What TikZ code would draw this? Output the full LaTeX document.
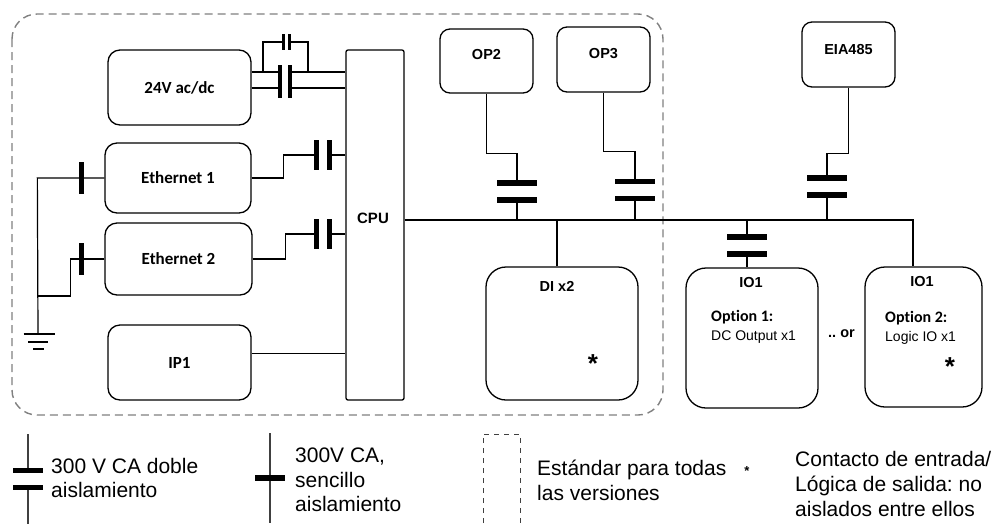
\documentclass[tikz,border=0pt]{standalone}
\usepackage{fontspec}
\setmainfont{Liberation Sans}
\newfontfamily\calibri[Ligatures=CommonOff]{Carlito}
\usepackage{tikz}
\usetikzlibrary{calc,positioning}
\frenchspacing
\tikzset{
  blk/.style={draw, line width=1.3pt, rounded corners=#1, inner sep=0pt},
  blk/.default=12pt,
  wire/.style={line width=1.2pt},
  plate/.style={line width=5.5pt},
  lbl/.style={font=\calibri\bfseries\fontsize{17}{20}\selectfont},
  modlbl/.style={font=\bfseries\fontsize{14.5}{17}\selectfont},
  legend/.style={font=\fontsize{21}{24.5}\selectfont, align=left, anchor=north west, inner sep=0pt}
}
% horizontal double plate: #1 centre, #2 half width
\newcommand{\hcap}[2]{\draw[plate] ([xshift=-#2,yshift=8.5pt]#1) -- ([xshift=#2,yshift=8.5pt]#1)
  ([xshift=-#2,yshift=-8.5pt]#1) -- ([xshift=#2,yshift=-8.5pt]#1);}
% vertical double plate: #1 centre, #2 half gap, #3 half height
\newcommand{\vcap}[3]{\draw[plate] ([xshift=-#2,yshift=#3]#1) -- ([xshift=-#2,yshift=-#3]#1)
  ([xshift=#2,yshift=#3]#1) -- ([xshift=#2,yshift=-#3]#1);}

\begin{document}
\begin{tikzpicture}[x=1pt,y=-1pt]
    \useasboundingbox (0,0) rectangle (994,523);
    % standard part
    \draw[gray, line width=1.4pt, dash pattern=on 8pt off 5pt, rounded corners=25pt] (12,14) rectangle (663,415);

    % modules
    \node[blk, minimum width=143pt, minimum height=75pt, lbl] (psu) at (179.5,87.5) {24V ac/dc};
    \node[blk, minimum width=146pt, minimum height=70pt, lbl] (eth1) at (178,178) {Ethernet 1};
    \node[blk, minimum width=147pt, minimum height=72pt, lbl] (eth2) at (178.5,259) {Ethernet 2};
    \node[blk, minimum width=143pt, minimum height=75pt, lbl] (ip1) at (179.5,362.5) {IP1};
    \node[blk=2pt, minimum width=58pt, minimum height=350pt] (cpu) at (375,225) {};
    \node[font=\bfseries\fontsize{15}{17}\selectfont] (cpulbl) at ([xshift=-2pt,yshift=7pt]cpu.center) {CPU};
    \node[blk=10pt, minimum width=93pt, minimum height=64pt] (op2) at (486.5,61) {};
    \node[blk=10pt, minimum width=93pt, minimum height=65pt] (op3) at (603.5,59.5) {};
    \node[blk=10pt, minimum width=93pt, minimum height=65pt] (eia) at (848.5,54.5) {};
    \node[modlbl] (op2lbl) at ([yshift=-26pt]op2.north) {OP2};
    \node[modlbl] (op3lbl) at ([yshift=-27pt]op3.north) {OP3};
    \node[modlbl] (eialbl) at ([yshift=-28pt]eia.north) {EIA485};
    \node[blk=20pt, minimum width=152pt, minimum height=133pt] (di) at (562,333.5) {};
    \node[blk=20pt, minimum width=132pt, minimum height=140pt] (io1a) at (752,338) {};
    \node[blk=20pt, minimum width=117pt, minimum height=140pt] (io1b) at (923.5,337) {};
    \node[modlbl] (dilbl) at ([xshift=-5pt,yshift=-20pt]di.north) {DI x2};
    \node[modlbl] (io1albl) at ([xshift=-1pt,yshift=-15pt]io1a.north) {IO1};
    \node[modlbl] (io1blbl) at ([xshift=-1.5pt,yshift=-15pt]io1b.north) {IO1};
    \node[anchor=west, align=left, inner sep=0pt, font=\fontsize{14}{19}\selectfont] (opt1) at ([xshift=-41pt,yshift=-59pt]io1a.north)
        {{\calibri\bfseries\fontsize{16}{19}\selectfont Option 1:}\\DC Output x1};
    \node[anchor=west, align=left, inner sep=0pt, font=\fontsize{14}{19}\selectfont] (opt2) at ([xshift=-38.5pt,yshift=-61pt]io1b.north)
        {{\calibri\bfseries\fontsize{16}{19}\selectfont Option 2:}\\Logic IO x1};
    \node[modlbl] (orlbl) at ([yshift=4pt]$(io1a.east)!0.5!(io1b.west)$) {.. or};
    \node[font=\bfseries\fontsize{26}{26}\selectfont] (star1) at ([xshift=31pt,yshift=-30pt]di.center) {*};
    \node[font=\bfseries\fontsize{26}{26}\selectfont] (star2) at ([xshift=26.5pt,yshift=-30pt]io1b.center) {*};

    % 24V supply, double barrier with bypass
    \coordinate (cp) at (285,72);
    \coordinate (cq) at (285,88);
    \coordinate (cb) at (286,42);
    \draw[wire] (cp -| psu.east) -- ([xshift=-5pt]cp) ([xshift=5pt]cp) -- (cp -| cpu.west);
    \draw[wire] (cq -| psu.east) -- ([xshift=-5pt]cq) ([xshift=5pt]cq) -- (cq -| cpu.west);
    \draw[plate, line width=4.5pt] ([xshift=-5pt,yshift=7pt]cp) -- ([xshift=-5pt,yshift=-10pt]cq)
        ([xshift=5pt,yshift=7pt]cp) -- ([xshift=5pt,yshift=-10pt]cq);
    \draw[wire] ([xshift=-22pt]cp) |- ([xshift=-3pt]cb);
    \draw[wire] ([xshift=3pt]cb) -| ([xshift=23pt]cp);
    \draw[line width=3pt] ([xshift=-3pt,yshift=8pt]cb) -- ([xshift=-3pt,yshift=-8pt]cb)
        ([xshift=3pt,yshift=8pt]cb) -- ([xshift=3pt,yshift=-8pt]cb);

    % Ethernet ports
    \coordinate (ce1) at (323,155);
    \coordinate (ce2) at (323,234);
    \draw[wire] (eth1.east) -- ++(32,0) |- ([xshift=-7pt]ce1);
    \draw[wire] ([xshift=7pt]ce1) -- (ce1 -| cpu.west);
    \vcap{ce1}{6.5pt}{15pt}
    \draw[wire] (eth2.east) -- ++(33,0) |- ([xshift=-7pt]ce2);
    \draw[wire] ([xshift=7pt]ce2) -- (ce2 -| cpu.west);
    \vcap{ce2}{6.5pt}{15pt}

    % earth side
    \coordinate (gnd) at (38,334);
    \draw[wire] (eth1.west) -- ++(-67,0) -- (gnd);
    \draw[wire] (eth2.west) -- ++(-34,0) |- ([yshift=38pt]gnd);
    \draw[line width=4.5pt] ([xshift=-23pt,yshift=16pt]eth1.west) -- ([xshift=-23pt,yshift=-16pt]eth1.west);
    \draw[line width=4.5pt] ([xshift=-23pt,yshift=16pt]eth2.west) -- ([xshift=-23pt,yshift=-16pt]eth2.west);
    \draw[line width=1.5pt] ([xshift=-14.5pt]gnd) -- ([xshift=16.5pt]gnd)
        ([xshift=-10pt,yshift=-8pt]gnd) -- ([xshift=10pt,yshift=-8pt]gnd)
        ([xshift=-5pt,yshift=-15pt]gnd) -- ([xshift=6pt,yshift=-15pt]gnd);

    % IP1
    \coordinate (ipw) at ([yshift=9pt]ip1.east);
    \draw[wire] (ipw) -- (ipw -| cpu.west);

    % bus
    \coordinate (bus) at ([yshift=5pt]cpu.east);
    \draw[wire] (bus) -| ([xshift=-10.5pt]io1b.north);
    \draw[wire] ([xshift=-5pt]di.north) -- ([xshift=-5pt]di.north |- bus);

    % isolated outputs
    \coordinate (co2) at (517,191.5);
    \coordinate (co3) at (635,190);
    \coordinate (cea) at (827,186.5);
    \coordinate (cio) at (747,245.5);
    \draw[wire] (op2.south) -- ++(0,60) -| ([yshift=8.5pt]co2);
    \draw[wire] ([yshift=-8.5pt]co2) -- (co2 |- bus);
    \hcap{co2}{20pt}
    \draw[wire] (op3.south) -- ++(0,59) -| ([yshift=8.5pt]co3);
    \draw[wire] ([yshift=-8.5pt]co3) -- (co3 |- bus);
    \hcap{co3}{20pt}
    \draw[wire] (eia.south) -- ++(0,66) -| ([yshift=8.5pt]cea);
    \draw[wire] ([yshift=-8.5pt]cea) -- (cea |- bus);
    \hcap{cea}{20pt}
    \draw[wire] (cio |- bus) -- ([yshift=8.5pt]cio);
    \draw[wire] ([yshift=-8.5pt]cio) -- (cio |- io1a.north);
    \hcap{cio}{20pt}

    % legend
    \coordinate (lg1) at (28,479);
    \draw[wire, black!75] ([yshift=45pt]lg1) -- ([yshift=8pt]lg1) ([yshift=-8pt]lg1) -- ([yshift=-45pt]lg1);
    \hcap{lg1}{15pt}
    \node[legend] (lgt1) at (51,458) {300 V CA doble\\aislamiento};
    \coordinate (lg2) at (270,478);
    \draw[wire, black!75] ([yshift=45pt]lg2) -- ([yshift=-45pt]lg2);
    \draw[plate] ([xshift=-15pt]lg2) -- ([xshift=15pt]lg2);
    \node[legend] (lgt2) at (295,448) {300V CA,\\sencillo\\aislamiento};
    \draw[black!75, line width=0.8pt, dash pattern=on 5pt off 5pt] (483,523) |- (520,434) -- (520,523);
    \node[legend] (lgt3) at (537,460) {Estándar para todas\\las versiones};
    \node[font=\bfseries\fontsize{13}{13}\selectfont] (lgstar) at (747,471) {*};
    \node[legend, font=\fontsize{21}{25}\selectfont] (lgt4) at (795,451) {Contacto de entrada/\\Lógica de salida: no\\aislados entre ellos};
\end{tikzpicture}
\end{document}
